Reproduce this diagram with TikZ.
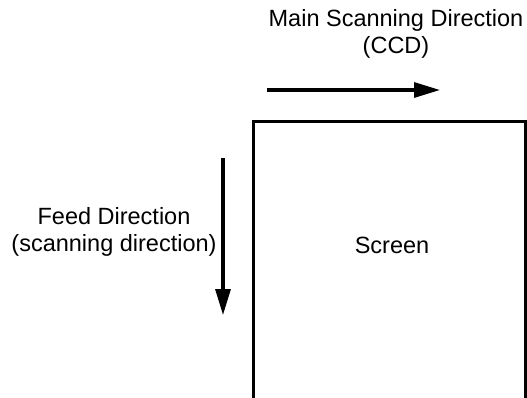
\documentclass[tikz,border=0pt]{standalone}
\usepackage{fontspec}
\setmainfont{Liberation Sans}
\usetikzlibrary{
    positioning,
    arrows.meta,
}

\begin{document}
\begin{tikzpicture}[
    x=1pt, y=-1pt,
    label text/.style={font=\fontsize{23.5}{27}\selectfont, align=center, inner sep=0pt},
    frame/.style={draw, line width=3.2pt},
    arrow/.style={-{Triangle[length=26pt, width=15pt]}, line width=3.2pt},
]
    % Canvas
    \useasboundingbox (0,0) rectangle (527,397);
    \clip (0,0) rectangle (527,397);

    % Screen
    \draw[frame] (253.5,121.5) rectangle (525.5,430);
    \node[label text] (screen) at (392,245) {Screen};

    % Direction arrows
    \coordinate (mainstart) at (267,90);
    \coordinate (mainend) at (440,90);
    \coordinate (feedstart) at (223,158);
    \coordinate (feedend) at (223,315);
    \draw[arrow] (mainstart) -- (mainend);
    \draw[arrow] (feedstart) -- (feedend);

    % Labels
    \node[label text] (main) at (396,34) {Main Scanning Direction\\(CCD)};
    \node[label text] (feed) at (114,232) {Feed Direction\\(scanning direction)};
\end{tikzpicture}
\end{document}
